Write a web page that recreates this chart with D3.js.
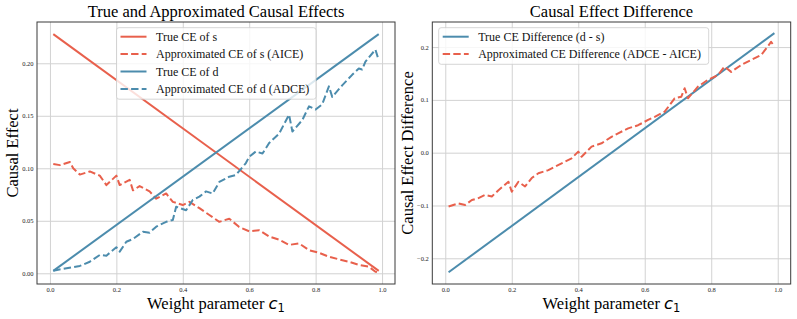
<!DOCTYPE html>
<html>
<head>
<meta charset="utf-8">
<script src="https://cdn.jsdelivr.net/npm/d3@7"></script>
<style>
  body { margin: 0; background: #fff; }
  svg text { font-family: "Liberation Serif", "Times New Roman", serif; }
</style>
</head>
<body>
<div id="chart"></div>
<script>
'use strict';

// weight parameter c1 and the series
var cTrue = [0.01, 0.99];
var trueS = [0.2277, 0.0023];
var trueD = [0.0023, 0.2277];
var trueDiff = [-0.2265, 0.2265];

var cAice = [0.01, 0.03, 0.06, 0.07, 0.09, 0.12, 0.15, 0.17, 0.20, 0.21, 0.24, 0.25, 0.27, 0.30, 0.32,
  0.35, 0.37, 0.40, 0.42, 0.45, 0.48, 0.51, 0.54, 0.57, 0.60, 0.63, 0.66, 0.69, 0.72, 0.75, 0.78,
  0.81, 0.84, 0.87, 0.90, 0.93, 0.96, 0.98, 0.99];
var aice = [0.104, 0.103, 0.106, 0.100, 0.094, 0.097, 0.093, 0.084, 0.093, 0.084, 0.089, 0.079, 0.083,
  0.078, 0.071, 0.076, 0.068, 0.065, 0.068, 0.062, 0.0555, 0.049, 0.052, 0.044, 0.040, 0.041, 0.035,
  0.032, 0.027, 0.0285, 0.022, 0.0196, 0.0158, 0.0133, 0.011, 0.008, 0.0063, 0.0015, 0.001];

var cAdce = [0.01, 0.05, 0.09, 0.12, 0.15, 0.17, 0.20, 0.21, 0.23, 0.25, 0.28, 0.30, 0.32, 0.35, 0.37,
  0.38, 0.41, 0.43, 0.45, 0.47, 0.49, 0.51, 0.54, 0.56, 0.59, 0.60, 0.62, 0.64, 0.66, 0.69, 0.72,
  0.73, 0.76, 0.78, 0.80, 0.82, 0.84, 0.85, 0.88, 0.91, 0.93, 0.94, 0.95, 0.98, 0.99];
var adce = [0.0025, 0.0048, 0.007, 0.011, 0.0174, 0.0168, 0.0248, 0.0206, 0.030, 0.0327, 0.0396, 0.0387,
  0.0444, 0.049, 0.0508, 0.0634, 0.060, 0.0698, 0.073, 0.078, 0.076, 0.087, 0.092, 0.0936, 0.105,
  0.111, 0.116, 0.114, 0.124, 0.133, 0.151, 0.135, 0.146, 0.159, 0.156, 0.161, 0.178, 0.168, 0.179,
  0.189, 0.195, 0.194, 0.2015, 0.213, 0.203];

var cDiff = [0.01, 0.04, 0.06, 0.08, 0.10, 0.12, 0.14, 0.16, 0.19, 0.20, 0.22, 0.24, 0.26, 0.28, 0.31,
  0.33, 0.36, 0.38, 0.40, 0.41, 0.44, 0.47, 0.50, 0.52, 0.55, 0.58, 0.61, 0.63, 0.66, 0.69, 0.71,
  0.72, 0.73, 0.76, 0.79, 0.82, 0.84, 0.86, 0.89, 0.92, 0.95, 0.97, 0.98, 0.99];
var approxDiff = [-0.102, -0.096, -0.099, -0.0896, -0.086, -0.080, -0.083, -0.071, -0.055, -0.074,
  -0.055, -0.064, -0.048, -0.039, -0.033, -0.0265, -0.017, -0.0106, 0.002, -0.0076, 0.0114, 0.0178,
  0.030, 0.0367, 0.046, 0.052, 0.062, 0.068, 0.0776, 0.103, 0.106, 0.122, 0.103, 0.125, 0.138, 0.147,
  0.163, 0.153, 0.166, 0.1755, 0.185, 0.201, 0.210, 0.2006];

var xTicks = [0.0, 0.2, 0.4, 0.6, 0.8, 1.0];
var yTicksLeft = [0.00, 0.05, 0.10, 0.15, 0.20];
var yTicksRight = [-0.2, -0.1, 0.0, 0.1, 0.2];

var red = "#e8604c";
var blue = "#4c8cad";
var dash = "7.4,3.2";

var w = 797;
var h = 319;

var svg = d3.select("#chart").append("svg")
  .attr("width", w)
  .attr("height", h);

function zip(cs, vs) {
  return cs.map(function (c, i) { return [c, vs[i]]; });
}

function drawPanel(opts) {
  var left = opts.left, right = opts.right, top = 22, bottom = 284;

  var x = d3.scaleLinear().domain([-0.039, 1.039]).range([left, right]);
  var y = d3.scaleLinear().domain(opts.yDomain).range([bottom, top]);

  var g = svg.append("g");

  // grid
  g.append("g")
    .attr("transform", "translate(0," + bottom + ")")
    .call(d3.axisBottom(x).tickValues(xTicks).tickSize(-(bottom - top)).tickFormat(""))
    .call(function (a) {
      a.select(".domain").remove();
      a.selectAll("line").attr("stroke", "#d2d2d2").attr("stroke-width", 1);
    });
  g.append("g")
    .attr("transform", "translate(" + left + ",0)")
    .call(d3.axisLeft(y).tickValues(opts.yTicks).tickSize(-(right - left)).tickFormat(""))
    .call(function (a) {
      a.select(".domain").remove();
      a.selectAll("line").attr("stroke", "#d2d2d2").attr("stroke-width", 1);
    });

  // tick labels
  g.append("g")
    .attr("transform", "translate(0," + bottom + ")")
    .call(d3.axisBottom(x).tickValues(xTicks).tickSize(0).tickPadding(3).tickFormat(d3.format(".1f")))
    .call(function (a) {
      a.select(".domain").remove();
      a.selectAll("text").attr("font-size", 6.5).attr("fill", "#222")
        .style("font-family", "Liberation Serif, serif");
    });
  g.append("g")
    .attr("transform", "translate(" + left + ",0)")
    .call(d3.axisLeft(y).tickValues(opts.yTicks).tickSize(0).tickPadding(3.5).tickFormat(d3.format(opts.yFormat)))
    .call(function (a) {
      a.select(".domain").remove();
      a.selectAll("text").attr("font-size", 6.5).attr("fill", "#222")
        .style("font-family", "Liberation Serif, serif");
    });

  var line = d3.line()
    .x(function (d) { return x(d[0]); })
    .y(function (d) { return y(d[1]); });

  var plot = g.append("g");
  opts.series.forEach(function (s) {
    plot.append("path")
      .datum(s.data)
      .attr("d", line)
      .attr("fill", "none")
      .attr("stroke", s.color)
      .attr("stroke-width", 2)
      .attr("stroke-linejoin", "round")
      .attr("stroke-dasharray", s.dashed ? dash : null);
  });

  // legend
  var lg = opts.legend;
  var legend = g.append("g");
  legend.append("rect")
    .attr("x", lg.x)
    .attr("y", lg.y)
    .attr("width", lg.w)
    .attr("height", lg.h)
    .attr("rx", 2.5)
    .attr("fill", "#fff")
    .attr("fill-opacity", 0.8)
    .attr("stroke", "#cccccc")
    .attr("stroke-width", 0.8);
  opts.series.forEach(function (s, i) {
    var cy = lg.y + 9 + i * 17.4;
    legend.append("line")
      .attr("x1", lg.x + 4)
      .attr("x2", lg.x + 30)
      .attr("y1", cy)
      .attr("y2", cy)
      .attr("stroke", s.color)
      .attr("stroke-width", 2)
      .attr("stroke-dasharray", s.dashed ? dash : null);
    legend.append("text")
      .attr("x", lg.x + 39.5)
      .attr("y", cy + 4.2)
      .attr("font-size", 12)
      .attr("fill", "#111")
      .text(s.name);
  });

  // spines
  g.append("rect")
    .attr("x", left)
    .attr("y", top)
    .attr("width", right - left)
    .attr("height", bottom - top)
    .attr("fill", "none")
    .attr("stroke", "#3a3a3a")
    .attr("stroke-width", 1);

  var cx = (left + right) / 2;
  g.append("text")
    .attr("x", cx)
    .attr("y", 17)
    .attr("text-anchor", "middle")
    .attr("font-size", 16.5)
    .attr("fill", "#000")
    .text(opts.title);

  var xl = g.append("text")
    .attr("x", cx)
    .attr("y", 308.5)
    .attr("text-anchor", "middle")
    .attr("font-size", 16.5)
    .attr("fill", "#000");
  xl.append("tspan").text("Weight parameter ");
  xl.append("tspan")
    .style("font-family", "DejaVu Sans, sans-serif")
    .attr("font-style", "italic")
    .text("c");
  xl.append("tspan")
    .style("font-family", "DejaVu Sans, sans-serif")
    .attr("font-size", 11.5)
    .attr("dy", 3)
    .text("1");

  g.append("text")
    .attr("transform", "translate(" + opts.yLabelX + "," + ((top + bottom) / 2) + ") rotate(-90)")
    .attr("text-anchor", "middle")
    .attr("font-size", 16.5)
    .attr("fill", "#000")
    .text(opts.yLabel);
}

drawPanel({
  left: 37,
  right: 395,
  yDomain: [-0.0102, 0.2393],
  yTicks: yTicksLeft,
  yFormat: ".2f",
  title: "True and Approximated Causal Effects",
  yLabel: "Causal Effect",
  yLabelX: 18,
  legend: { x: 116.5, y: 27.7, w: 199.5, h: 71.5 },
  series: [
    { name: "True CE of s", color: red, dashed: false, data: zip(cTrue, trueS) },
    { name: "Approximated CE of s (AICE)", color: red, dashed: true, data: zip(cAice, aice) },
    { name: "True CE of d", color: blue, dashed: false, data: zip(cTrue, trueD) },
    { name: "Approximated CE of d (ADCE)", color: blue, dashed: true, data: zip(cAdce, adce) }
  ]
});

drawPanel({
  left: 432.3,
  right: 790.7,
  yDomain: [-0.2487, 0.2475],
  yTicks: yTicksRight,
  yFormat: ".1f",
  title: "Causal Effect Difference",
  yLabel: "Causal Effect Difference",
  yLabelX: 413,
  legend: { x: 438.7, y: 27.7, w: 270, h: 36.6 },
  series: [
    { name: "True CE Difference (d - s)", color: blue, dashed: false, data: zip(cTrue, trueDiff) },
    { name: "Approximated CE Difference (ADCE - AICE)", color: red, dashed: true, data: zip(cDiff, approxDiff) }
  ]
});
</script>
</body>
</html>
